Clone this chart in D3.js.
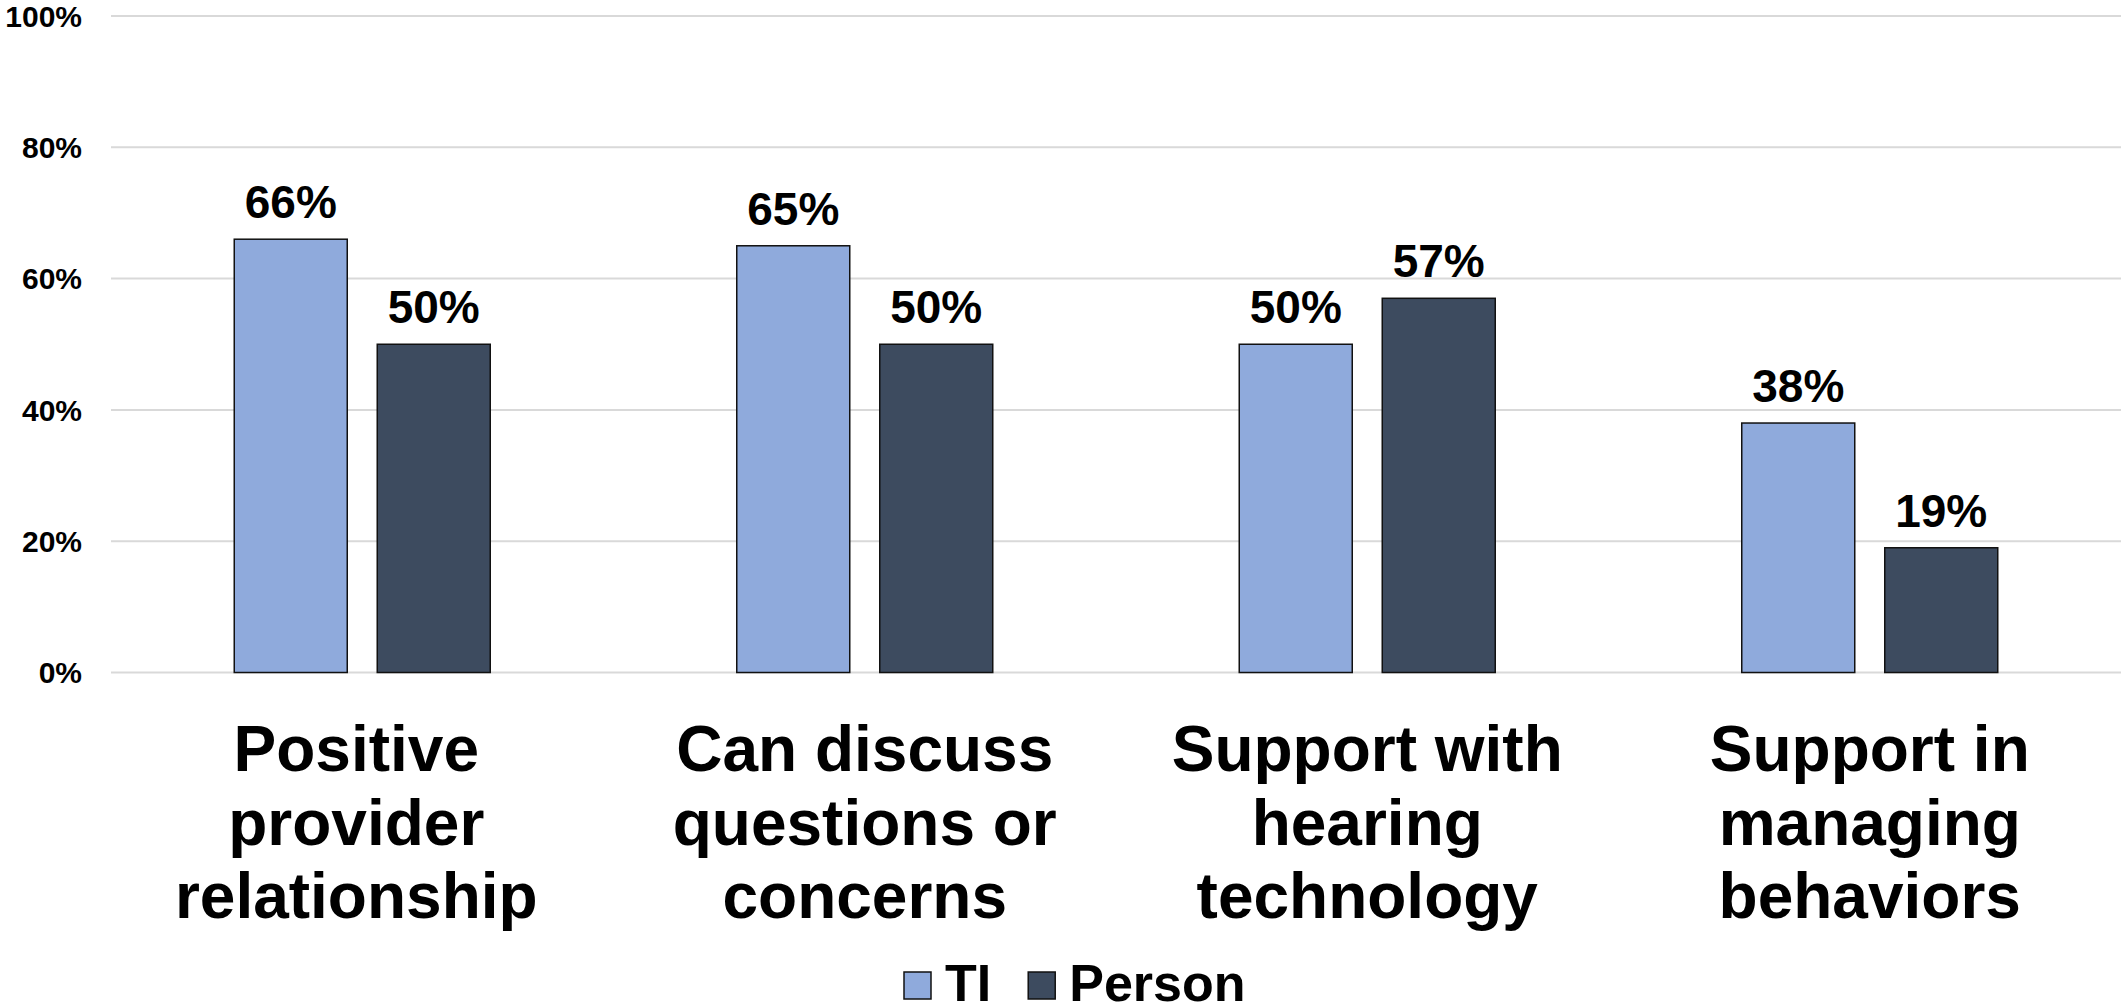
<!doctype html>
<html>
<head>
<meta charset="utf-8">
<script src="https://cdn.jsdelivr.net/npm/d3@7"></script>
<style>
  html, body { margin: 0; padding: 0; background: #fff; }
  svg { display: block; font-family: "Liberation Sans", Arial, sans-serif; font-weight: bold; }
</style>
</head>
<body>
<svg id="chart" width="2121" height="1006"></svg>
<script>
const categories = [
  ["Positive", "provider", "relationship"],
  ["Can discuss", "questions or", "concerns"],
  ["Support with", "hearing", "technology"],
  ["Support in", "managing", "behaviors"]
];
const seriesNames = ["TI", "Person"];
const tiValues = [66, 65, 50, 38];
const personValues = [50, 50, 57, 19];
const yTicks = [0, 20, 40, 60, 80, 100];

const colors = {TI: "#8FAADC", Person: "#3D4B5F"};
const series = [tiValues, personValues];

const svg = d3.select("#chart");

const x = d3.scaleBand()
    .domain(d3.range(categories.length))
    .range([111, 2121])
    .padding(0);

const y = d3.scaleLinear().domain([0, 100]).range([672.5, 16]);

const barW = 113, barGap = 30;
// offset of each series bar from the group centre
const offset = d3.scaleOrdinal()
    .domain(seriesNames)
    .range([-(barGap / 2 + barW), barGap / 2]);

// gridlines
svg.append("g")
  .selectAll("line")
  .data(yTicks)
  .join("line")
    .attr("x1", 111).attr("x2", 2121)
    .attr("y1", d => y(d)).attr("y2", d => y(d))
    .attr("stroke", "#D9D9D9")
    .attr("stroke-width", 2);

// y tick labels
svg.append("g")
  .selectAll("text")
  .data(yTicks)
  .join("text")
    .attr("x", 82)
    .attr("y", d => y(d))
    .attr("dy", "0.36em")
    .attr("text-anchor", "end")
    .attr("font-size", 30)
    .text(d => d + "%");

// bars
const groups = svg.append("g")
  .selectAll("g")
  .data(categories)
  .join("g")
    .attr("transform", (d, i) => `translate(${x(i) + x.bandwidth() / 2},0)`);

groups.each(function(cat, i) {
  const g = d3.select(this);
  seriesNames.forEach((name, s) => {
    const v = series[s][i];
    g.append("rect")
      .attr("x", offset(name))
      .attr("y", y(v))
      .attr("width", barW)
      .attr("height", y(0) - y(v))
      .attr("fill", colors[name])
      .attr("stroke", "#111")
      .attr("stroke-width", 1.5);
    g.append("text")
      .attr("x", offset(name) + barW / 2)
      .attr("y", y(v) - 21)
      .attr("text-anchor", "middle")
      .attr("font-size", 46)
      .text(v + "%");
  });
  const t = g.append("text")
    .attr("text-anchor", "middle")
    .attr("font-size", 64);
  cat.forEach((line, k) => {
    t.append("tspan")
      .attr("x", i === 0 ? -6 : 0)
      .attr("y", 771 + k * 73.5)
      .text(line);
  });
});

// legend
const legend = svg.append("g");
const items = legend.selectAll("g")
  .data(seriesNames)
  .join("g");
items.append("rect")
  .attr("width", 27).attr("height", 27)
  .attr("y", 972)
  .attr("fill", d => colors[d])
  .attr("stroke", "#111")
  .attr("stroke-width", 1.5);
items.append("text")
  .attr("x", 41)
  .attr("y", 1001)
  .attr("font-size", 52)
  .text(d => d);

let cx = 904;
items.each(function() {
  const g = d3.select(this);
  g.attr("transform", `translate(${cx},0)`);
  const w = g.select("text").node().getComputedTextLength();
  cx += 41 + w + 37;
});
</script>
</body>
</html>
